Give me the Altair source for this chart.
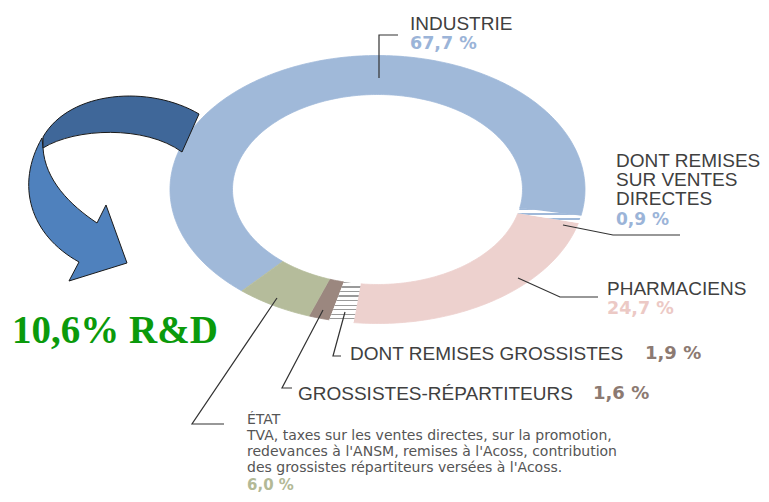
import altair as alt
import numpy as np
import pandas as pd

# ---------------- data ----------------
segments = ["Industrie", "Pharmaciens", "Grossistes-répartiteurs", "État"]
shares = [67.7, 24.7, 1.6, 6.0]
sub_labels = ["Dont remises sur ventes directes", "Dont remises grossistes"]
sub_parent = ["Industrie", "Pharmaciens"]
sub_shares = [0.9, 1.9]
rd_share = 10.6

etat_body = [
    "TVA, taxes sur les ventes directes, sur la promotion,",
    "redevances à l'ANSM, remises à l'Acoss, contribution",
    "des grossistes répartiteurs versées à l'Acoss.",
]


def fr(v):
    return f"{v:.1f}".replace(".", ",")


# ---------------- layout / style ----------------
CX, CY = 377.5, 189.5
RXO, RYO, RXI, RYI = 207.5, 134.0, 145.0, 95.0
T0 = 130.8  # start angle (deg, screen coords)

seg_colors = {
    "Industrie": "#a0b9d9",
    "Pharmaciens": "#edd1ce",
    "Grossistes-répartiteurs": "#9b877f",
    "État": "#b5bc9b",
}
pct_colors = {
    "Industrie": "#9bb4d8",
    "Pharmaciens": "#ecc9c5",
    "Grossistes-répartiteurs": "#8c7a72",
    "État": "#b3b996",
}

xs = alt.Scale(domain=[8, 761], nice=False, zero=False)
ys = alt.Scale(domain=[494, 8], nice=False, zero=False)

# ---------------- ring geometry from shares ----------------
pieces = []
t = T0
for name, s in zip(segments, shares):
    span = s * 3.6
    subs = [(l, v) for l, p, v in zip(sub_labels, sub_parent, sub_shares) if p == name]
    if subs:
        l, v = subs[0]
        main = span - v * 3.6
        pieces.append((name, t, t + main))
        pieces.append((l, t + main, t + span))
    else:
        pieces.append((name, t, t + span))
    t += span

rows = []
for name, a, b in pieces:
    n = max(6, int(abs(b - a) / 1.0) + 2)
    ts = np.radians(np.linspace(a, b, n))
    pts = [(CX + RXO * np.cos(tt), CY + RYO * np.sin(tt)) for tt in ts]
    pts += [(CX + RXI * np.cos(tt), CY + RYI * np.sin(tt)) for tt in ts[::-1]]
    for i, (x, y) in enumerate(pts):
        rows.append({"piece": name, "i": i, "x": x, "y": y})
ring = pd.DataFrame(rows)


def stripes(n, base, line, frac):
    stops = []
    for k in range(n):
        s0 = k / n
        s1 = (k + frac) / n
        stops += [
            alt.GradientStop(offset=s0, color=line),
            alt.GradientStop(offset=s1, color=line),
            alt.GradientStop(offset=s1, color=base),
            alt.GradientStop(offset=(k + 1) / n, color=base),
        ]
    return alt.LinearGradient(gradient="linear", stops=stops, x1=0, x2=0, y1=0, y2=1)


def ring_layer(name, fill, stroke=None):
    if stroke:
        mk = alt.Chart(ring).mark_line(fill=fill, stroke=stroke, strokeWidth=0.8)
    else:
        mk = alt.Chart(ring).mark_line(fill=fill, stroke="white", strokeOpacity=0, strokeWidth=0)
    return mk.transform_filter(alt.datum.piece == name).encode(
        x=alt.X("x:Q", scale=xs, axis=None),
        y=alt.Y("y:Q", scale=ys, axis=None),
        order=alt.Order("i:Q"),
    )


ring_layers = [ring_layer(s, seg_colors[s], seg_colors[s]) for s in segments]
ring_layers.append(ring_layer(sub_labels[0], stripes(3, "#ffffff", "#a0b9d9", 0.35)))
ring_layers.append(ring_layer(sub_labels[1], stripes(9, "#ffffff", "#9a9a9a", 0.3)))

# ---------------- leader lines ----------------
leaders = {
    "Industrie": [(379, 78), (379, 35), (398, 35)],
    "Dont remises sur ventes directes": [(563, 225), (613, 235), (680, 235)],
    "Pharmaciens": [(518, 278), (560, 297), (598, 297)],
    "Dont remises grossistes": [(345, 312), (333, 356), (341, 356)],
    "Grossistes-répartiteurs": [(323, 310), (282, 388), (292, 388)],
    "État": [(277, 298), (192, 424), (224, 424)],
}
lrows = []
for k, pts in leaders.items():
    for i, (x, y) in enumerate(pts):
        lrows.append({"lead": k, "i": i, "x": x, "y": y})
lead_df = pd.DataFrame(lrows)
lead_layer = alt.Chart(lead_df).mark_line(color="#333333", strokeWidth=1.2).encode(
    x=alt.X("x:Q", scale=xs, axis=None),
    y=alt.Y("y:Q", scale=ys, axis=None),
    detail="lead:N",
    order=alt.Order("i:Q"),
)

# ---------------- texts ----------------
reg = [
    ("INDUSTRIE", 410, 24),
    ("DONT REMISES", 616, 161),
    ("SUR VENTES", 616, 180),
    ("DIRECTES", 616, 199),
    ("PHARMACIENS", 607, 289),
    ("DONT REMISES GROSSISTES", 350, 354),
    ("GROSSISTES-RÉPARTITEURS", 298, 394),
]
reg_df = pd.DataFrame(reg, columns=["t", "x", "y"])
reg_layer = alt.Chart(reg_df).mark_text(
    align="left", baseline="middle", font="Liberation Sans", fontSize=19, color="#404040"
).encode(x=alt.X("x:Q", scale=xs, axis=None), y=alt.Y("y:Q", scale=ys, axis=None), text="t:N")

small = [("ÉTAT", 247, 420)] + [(line, 247, 436 + 16 * k) for k, line in enumerate(etat_body)]
small_df = pd.DataFrame(small, columns=["t", "x", "y"])
small_layer = alt.Chart(small_df).mark_text(
    align="left", baseline="middle", font="DejaVu Sans", fontSize=14, color="#555555"
).encode(x=alt.X("x:Q", scale=xs, axis=None), y=alt.Y("y:Q", scale=ys, axis=None), text="t:N")

pcts = [
    (fr(shares[0]) + " %", 410, 44, pct_colors["Industrie"], 17.5),
    (fr(sub_shares[0]) + " %", 616, 220, pct_colors["Industrie"], 17),
    (fr(shares[1]) + " %", 607, 309, pct_colors["Pharmaciens"], 17.5),
    (fr(sub_shares[1]) + " %", 645, 354, pct_colors["Grossistes-répartiteurs"], 18),
    (fr(shares[2]) + " %", 593, 394, pct_colors["Grossistes-répartiteurs"], 18),
    (fr(shares[3]) + " %", 247, 484.5, pct_colors["État"], 15),
]
pct_df = pd.DataFrame(pcts, columns=["t", "x", "y", "c", "s"])
pct_layer = alt.Chart(pct_df).mark_text(
    align="left", baseline="middle", font="DejaVu Sans", fontWeight="bold"
).encode(
    x=alt.X("x:Q", scale=xs, axis=None),
    y=alt.Y("y:Q", scale=ys, axis=None),
    text="t:N",
    color=alt.Color("c:N", scale=None),
    size=alt.Size("s:Q", scale=None),
)

rd_df = pd.DataFrame({"t": [fr(rd_share) + "% R&D"], "x": [12], "y": [331]})
rd_layer = alt.Chart(rd_df).mark_text(
    align="left", baseline="middle", font="Liberation Serif", fontWeight="bold",
    fontSize=39, color="#0b9a0b"
).encode(x=alt.X("x:Q", scale=xs, axis=None), y=alt.Y("y:Q", scale=ys, axis=None), text="t:N")

# ---------------- curved arrow (decorative symbol) ----------------
AC = (112, 189)
AH = 92


def to_path(cmds):
    out = []
    for c, pts in cmds:
        coords = " ".join(f"{(x - AC[0]) / AH:.4f},{(y - AC[1]) / AH:.4f}" for x, y in pts)
        out.append(f"{c}{coords}")
    return " ".join(out) + " Z"


dark_path = to_path([
    ("M", [(199, 114)]),
    ("C", [(150, 85), (70, 90), (43, 137)]),
    ("L", [(43, 148)]),
    ("C", [(75, 128), (145, 125), (182, 152)]),
])
light_path = to_path([
    ("M", [(42, 138)]),
    ("C", [(15, 185), (30, 235), (79, 262)]),
    ("L", [(69, 281)]),
    ("L", [(127, 263)]),
    ("L", [(106, 205)]),
    ("L", [(97, 223)]),
    ("C", [(70, 205), (45, 180), (43, 148)]),
])
arrow_df = pd.DataFrame({"x": [AC[0]], "y": [AC[1]]})


def arrow_layer(path, fill):
    return alt.Chart(arrow_df).mark_point(
        shape=path, size=(2 * AH) ** 2, filled=True, fill=fill, stroke="#1a1a1a",
        strokeWidth=1, opacity=1
    ).encode(x=alt.X("x:Q", scale=xs, axis=None), y=alt.Y("y:Q", scale=ys, axis=None))


arrow_layers = [arrow_layer(light_path, "#4f81bd"), arrow_layer(dark_path, "#3f6799")]

chart = alt.layer(
    *ring_layers, lead_layer, *arrow_layers, reg_layer, small_layer, pct_layer, rd_layer
).properties(
    width=753, height=486, padding=0, autosize=alt.AutoSizeParams(type="none"),
    background="white",
).configure_view(stroke=None)

chart.save("out.html", embed_options={"renderer": "svg", "actions": False})
